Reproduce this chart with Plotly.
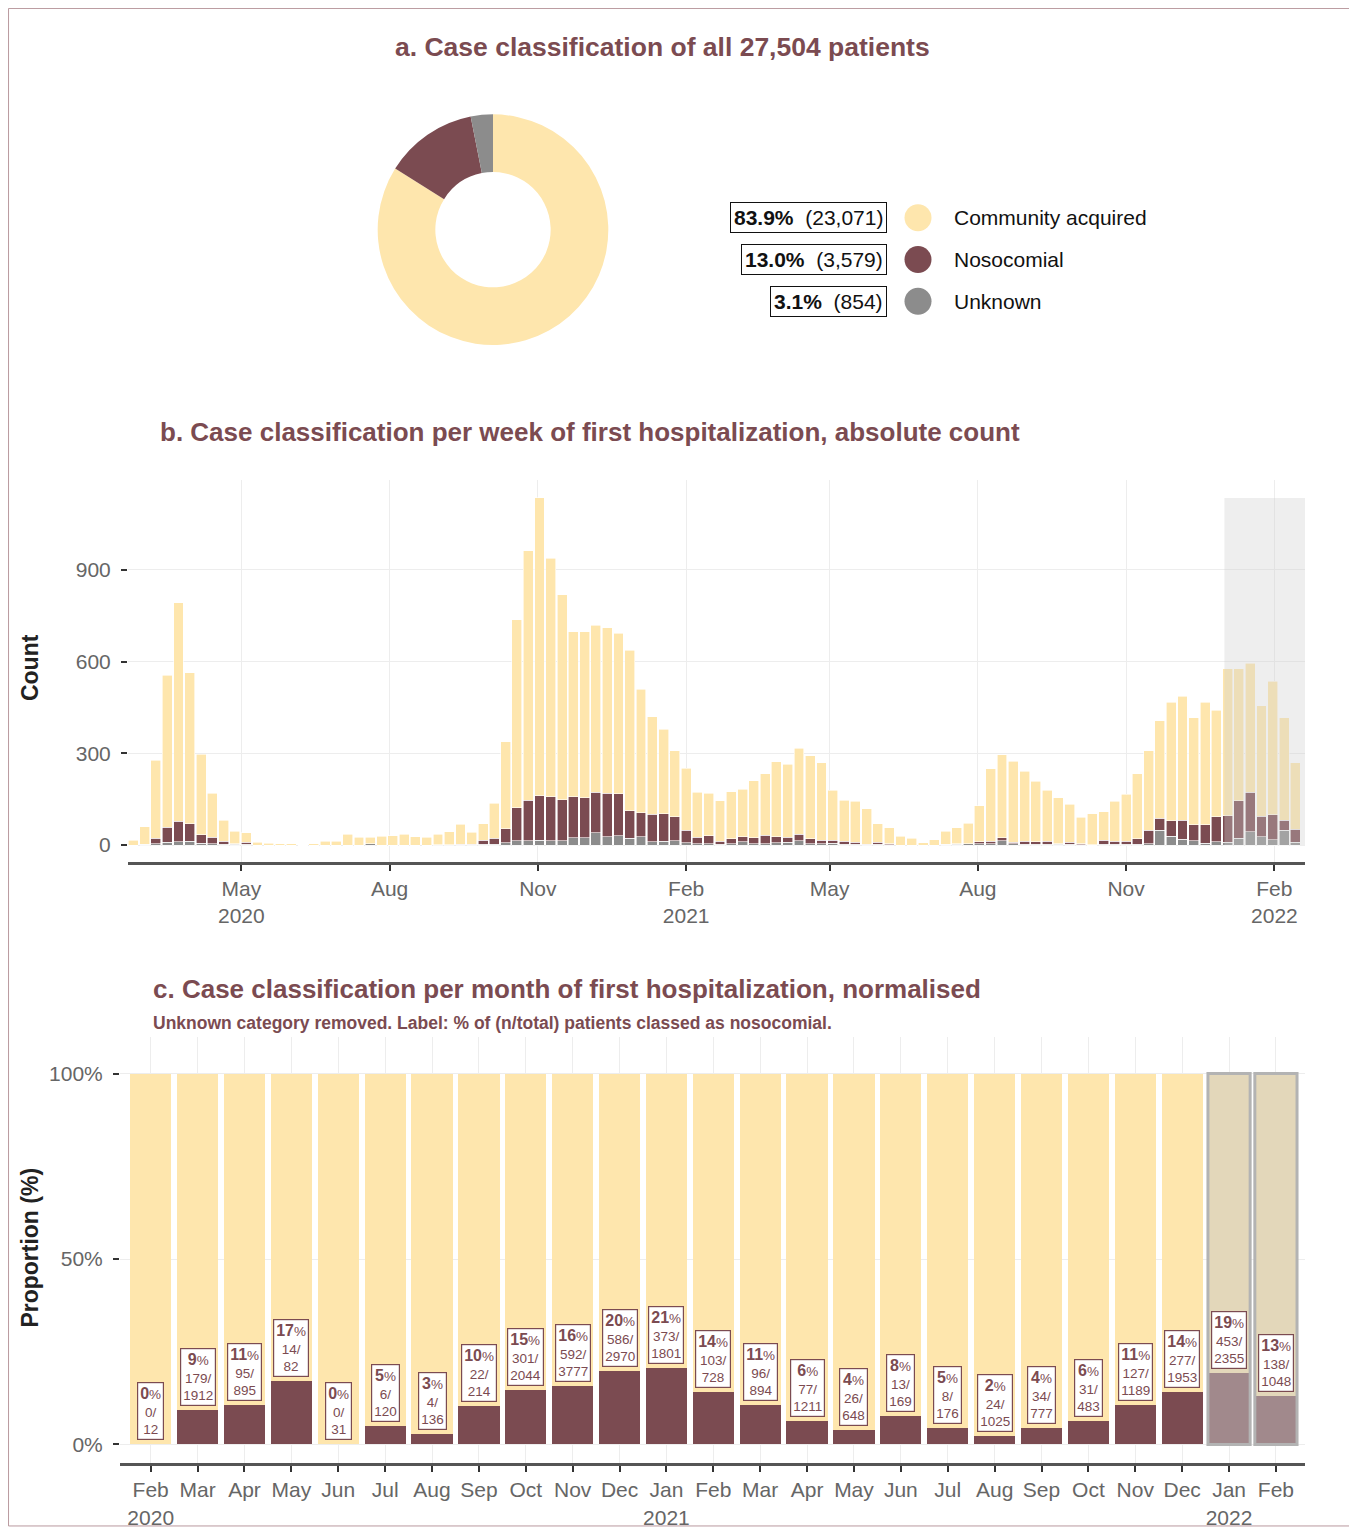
import pandas as pd
import plotly.graph_objects as go

# the page puts the figure 8px in from the top-left corner, so work in page pixels
OFF = 8
W, H = 1341, 1521
FONT = "Liberation Sans, Arial, sans-serif"

COL_COMM = "#FEE6AD"
COL_NOSO = "#7B4B51"
COL_UNK = "#8C8C8C"
COL_TITLE = "#7B4B51"
COL_TICK = "#666666"
COL_GRID = "#EDEDED"

# a. overall classification
class_labels = ["Community acquired", "Nosocomial", "Unknown"]
class_counts = [23071, 3579, 854]
class_colors = [COL_COMM, COL_NOSO, COL_UNK]

# b. weekly counts (week of first hospitalization)
week_start = "2020-02-24"
weekly_community = [16, 57, 255, 498, 715, 494, 263, 144, 69, 40, 30,
                    10, 6, 5, 4, 1, 5, 12, 12, 35, 26, 21, 29, 31, 36, 28, 26, 35, 43, 65, 39,
                    54, 113, 284, 614, 816, 974, 780, 669, 539, 543, 546, 541, 524, 525, 405, 319, 276, 217, 204,
                    147, 138, 132, 154, 155, 186, 201, 244, 239, 281, 271, 254, 163, 135, 134, 116, 61, 52,
                    29, 22, 8, 18, 42, 52, 67, 118, 237, 272, 265, 230, 197, 168, 150, 124, 86, 101, 93, 132, 155, 214,
                    260, 320, 387, 406, 351, 400, 349, 480, 431, 423, 362, 436, 335, 218]
weekly_nosocomial = [0, 0, 18, 49, 67, 58, 28, 21, 9, 3, 8,
                     0, 0, 0, 0, 0, 0, 0, 0, 0, 0, 1, 0, 0, 0, 0, 0, 0, 0, 2, 2,
                     13, 20, 47, 107, 132, 145, 144, 134, 134, 130, 131, 142, 138, 90, 78, 90, 90, 78, 40,
                     20, 26, 11, 16, 16, 19, 27, 21, 16, 20, 16, 11, 10, 9, 8, 2, 6, 4,
                     0, 0, 0, 0, 0, 3, 0, 6, 8, 10, 5, 9, 8, 9, 3, 6, 4, 1, 13, 9, 9, 18,
                     43, 38, 51, 62, 51, 61, 81, 87, 123, 129, 66, 82, 33, 41]
weekly_unknown = [0, 3, 5, 9, 11, 12, 6, 5, 3, 2, 2,
                  0, 0, 0, 0, 0, 0, 0, 0, 0, 0, 4, 0, 0, 0, 0, 0, 1, 1, 1, 1,
                  3, 3, 7, 15, 14, 16, 14, 15, 24, 24, 41, 27, 30, 22, 27, 11, 12, 14, 8,
                  5, 5, 2, 4, 11, 5, 5, 7, 10, 15, 5, 5, 6, 3, 2, 1, 3, 1,
                  0, 0, 0, 0, 3, 2, 4, 5, 5, 14, 4, 3, 3, 3, 2, 3, 1, 0, 3, 3, 3, 2,
                  5, 49, 29, 19, 15, 6, 11, 9, 22, 43, 28, 18, 48, 10]
provisional_from = "2022-01-01"
b_tickvals = ["2020-05-01", "2020-08-01", "2020-11-01", "2021-02-01",
              "2021-05-01", "2021-08-01", "2021-11-01", "2022-02-01"]
b_ticktext = ["May<br>2020", "Aug", "Nov", "Feb<br>2021", "May", "Aug", "Nov", "Feb<br>2022"]
b_range = ["2020-02-20 16:00", "2022-02-20"]

# c. monthly nosocomial share (unknown removed)
month_labels = ["Feb<br>2020", "Mar", "Apr", "May", "Jun", "Jul", "Aug", "Sep", "Oct", "Nov", "Dec",
                "Jan<br>2021", "Feb", "Mar", "Apr", "May", "Jun", "Jul", "Aug", "Sep", "Oct", "Nov", "Dec",
                "Jan<br>2022", "Feb"]
monthly_nosocomial = [0, 179, 95, 14, 0, 6, 4, 22, 301, 592, 586, 373, 103, 96, 77, 26, 13, 8, 24,
                      34, 31, 127, 277, 453, 138]
monthly_total = [12, 1912, 895, 82, 31, 120, 136, 214, 2044, 3777, 2970, 1801, 728, 894, 1211, 648,
                 169, 176, 1025, 777, 483, 1189, 1953, 2355, 1048]
provisional_months = 2


def px_x(p):
    return (p - OFF) / W


def px_y(p):
    return 1 - (p - OFF) / H


weeks = pd.date_range(week_start, periods=len(weekly_community), freq="7D")
weekly_total = [a + b + c for a, b, c in zip(weekly_community, weekly_nosocomial, weekly_unknown)]
months = list(range(len(month_labels)))
noso_pct = [100 * n / t for n, t in zip(monthly_nosocomial, monthly_total)]
comm_pct = [100 - p for p in noso_pct]

fig = go.Figure()

# a. donut
fig.add_trace(go.Pie(
    labels=class_labels, values=class_counts, hole=0.5, sort=False, direction="clockwise",
    marker=dict(colors=class_colors, line=dict(width=0)), textinfo="none",
    domain=dict(x=[px_x(377), px_x(609)], y=[px_y(347), px_y(115)]),
))

# legend for a
leg_pos = list(range(len(class_labels)))[::-1]
fig.add_trace(go.Scatter(
    x=[0] * len(class_labels), y=leg_pos, mode="markers", xaxis="x3", yaxis="y3",
    marker=dict(size=27, color=class_colors), hoverinfo="skip",
))
total_all = sum(class_counts)
annotations = []
for lab, cnt, yy in zip(class_labels, class_counts, leg_pos):
    annotations.append(dict(
        xref="paper", yref="y3", x=px_x(887), y=yy, xanchor="right", yanchor="middle",
        text=f"<b>{100 * cnt / total_all:.1f}%</b>&nbsp;&nbsp;({cnt:,})", showarrow=False,
        font=dict(size=21, color="#111111"), bgcolor="white", bordercolor="#111111",
        borderwidth=1, borderpad=3,
    ))
    annotations.append(dict(
        xref="paper", yref="y3", x=px_x(952), y=yy, xanchor="left", yanchor="middle",
        text=lab, showarrow=False, font=dict(size=21, color="#111111"),
    ))

# b. weekly stacked bars
for name, vals, col in [("Unknown", weekly_unknown, COL_UNK),
                        ("Nosocomial", weekly_nosocomial, COL_NOSO),
                        ("Community acquired", weekly_community, COL_COMM)]:
    fig.add_trace(go.Bar(
        x=weeks, y=vals, name=name, xaxis="x", yaxis="y",
        marker=dict(color=col, line=dict(color="white", width=0.6)),
    ))

# c. monthly proportions
fig.add_trace(go.Bar(x=months, y=noso_pct, xaxis="x2", yaxis="y2",
                     marker=dict(color=COL_NOSO, line=dict(width=0))))
fig.add_trace(go.Bar(x=months, y=comm_pct, xaxis="x2", yaxis="y2",
                     marker=dict(color=COL_COMM, line=dict(width=0))))

for i, (p, n, t) in enumerate(zip(noso_pct, monthly_nosocomial, monthly_total)):
    annotations.append(dict(
        xref="x2", yref="y2", x=i, y=p, xanchor="center", yanchor="bottom", yshift=4,
        text=f"<b><span style='font-size:16px'>{int(p + 0.5)}</span></b>%<br>{n}/<br>{t}",
        showarrow=False, font=dict(size=13.5, color=COL_NOSO), bgcolor="white",
        bordercolor=COL_NOSO, borderwidth=1.2, borderpad=2,
    ))

shapes = [
    # outer frame
    dict(type="rect", xref="paper", yref="paper", x0=0.0004, x1=px_x(1352), y0=px_y(1535),
         y1=0.9997, line=dict(color="#B9999E", width=1), fillcolor="rgba(0,0,0,0)", layer="below"),
    # provisional period in b
    dict(type="rect", xref="x", yref="y", x0=provisional_from, x1=b_range[1], y0=0,
         y1=max(weekly_total), fillcolor="rgba(205,205,205,0.35)", line=dict(width=0), layer="above"),
]
for i in months[-provisional_months:]:
    shapes.append(dict(type="rect", xref="x2", yref="y2", x0=i - 0.45, x1=i + 0.45, y0=0, y1=100,
                       fillcolor="rgba(200,200,200,0.5)", line=dict(color="#B3B3B3", width=3),
                       layer="above"))

# titles
annotations += [
    dict(xref="paper", yref="paper", x=px_x(662), y=px_y(47), xanchor="center", yanchor="middle",
         text="<b>a. Case classification of all 27,504 patients</b>", showarrow=False,
         font=dict(size=26.5, color=COL_TITLE)),
    dict(xref="paper", yref="paper", x=px_x(158), y=px_y(435), xanchor="left", yanchor="middle",
         text="<b>b. Case classification per week of first hospitalization, absolute count</b>",
         showarrow=False, font=dict(size=26, color=COL_TITLE)),
    dict(xref="paper", yref="paper", x=px_x(151), y=px_y(995), xanchor="left", yanchor="middle",
         text="<b>c. Case classification per month of first hospitalization, normalised</b>",
         showarrow=False, font=dict(size=26, color=COL_TITLE)),
    dict(xref="paper", yref="paper", x=px_x(151), y=px_y(1029), xanchor="left", yanchor="middle",
         text="<b>Unknown category removed. Label: % of (n/total) patients classed as nosocomial.</b>",
         showarrow=False, font=dict(size=17.5, color=COL_TITLE)),
    dict(xref="paper", yref="paper", x=px_x(30), y=px_y(672), xanchor="center", yanchor="middle",
         text="<b>Count</b>", textangle=-90, showarrow=False, font=dict(size=23, color="#222222")),
    dict(xref="paper", yref="paper", x=px_x(30), y=px_y(1255), xanchor="center", yanchor="middle",
         text="<b>Proportion (%)</b>", textangle=-90, showarrow=False,
         font=dict(size=23, color="#222222")),
]

axis_common = dict(
    showline=False, ticks="outside", ticklen=6, tickwidth=2, tickcolor="#333333",
    tickfont=dict(size=21, color=COL_TICK), gridcolor=COL_GRID, gridwidth=1, zeroline=False,
    fixedrange=True,
)

fig.update_layout(
    width=W, height=H, margin=dict(l=0, r=0, t=0, b=0),
    paper_bgcolor="white", plot_bgcolor="white",
    font=dict(family=FONT), showlegend=False,
    barmode="stack", bargap=0.12,
    xaxis=dict(axis_common, domain=[px_x(128), px_x(1305)], anchor="y", type="date", range=b_range,
               tickvals=b_tickvals, ticktext=b_ticktext, showline=True, linecolor="#555555",
               linewidth=2.5),
    yaxis=dict(axis_common, domain=[px_y(867), px_y(483)], anchor="x", range=[-55, 1193],
               tickvals=[0, 300, 600, 900], ticklabelstandoff=6),
    xaxis2=dict(axis_common, domain=[px_x(120), px_x(1305)], anchor="y2", range=[-0.655, 24.62],
                tickvals=months, ticktext=month_labels, showline=True, linecolor="#555555",
                linewidth=2.5),
    yaxis2=dict(axis_common, domain=[px_y(1472), px_y(1043)], anchor="x2", range=[-5.1, 109.9],
                tickvals=[0, 50, 100], ticktext=["0%", "50%", "100%"], ticklabelstandoff=6),
    xaxis3=dict(domain=[px_x(898), px_x(938)], range=[-1, 1], visible=False, fixedrange=True),
    yaxis3=dict(domain=[px_y(324), px_y(198)], range=[-0.5, 2.5], visible=False, fixedrange=True,
                anchor="x3"),
    annotations=annotations, shapes=shapes,
)

fig.write_html("out.html")
